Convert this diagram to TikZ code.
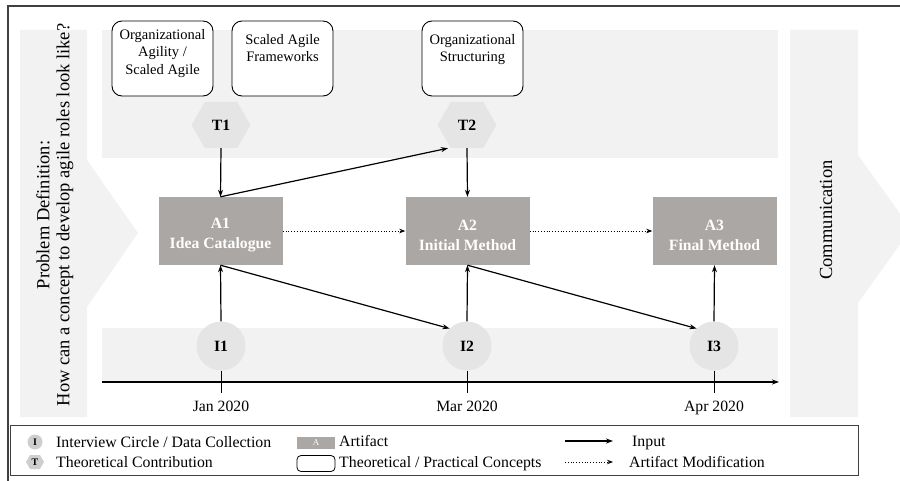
\documentclass[tikz,border=0pt]{standalone}
\usepackage{fontspec}
\setmainfont{Liberation Serif}
\usetikzlibrary{shapes.symbols,arrows.meta,calc}
\definecolor{bandgray}{HTML}{F2F2F2}
\definecolor{nodegray}{HTML}{E6E5E5}
\definecolor{artgray}{RGB}{170,167,164}
\definecolor{framegray}{HTML}{404040}
\begin{document}
\begin{tikzpicture}[x=1pt,y=-1pt,
  every node/.style={font=\fontsize{15.7}{18}\selectfont, inner sep=0pt},
  band/.style={fill=bandgray, draw=none},
  artifact/.style={rectangle, fill=artgray, minimum width=124pt, minimum height=68pt},
  arttext/.style={text=white, align=center, font=\fontsize{15.7}{20}\selectfont\bfseries},
  concept/.style={rectangle, rounded corners=10pt, draw=black, line width=0.9pt,
    fill=white, minimum width=101pt, minimum height=75pt},
  ctext/.style={anchor=north, align=center, font=\fontsize{14.5}{17.5}\selectfont},
  theo/.style={signal, signal to=east and west, signal pointer angle=120,
    fill=nodegray, minimum width=59pt, minimum height=46pt,
    font=\fontsize{15.7}{18}\selectfont\bfseries},
  interview/.style={circle, fill=nodegray, minimum size=49pt,
    font=\fontsize{15.7}{18}\selectfont\bfseries},
  input/.style={-{Stealth[length=7pt,width=5pt]}, line width=1.2pt},
  modif/.style={-{Stealth[length=6pt,width=4.5pt]}, line width=0.8pt, dotted},
  sidetext/.style={rotate=90, font=\fontsize{18.5}{22}\selectfont},
  datetext/.style={anchor=base},
  legtext/.style={anchor=base west, font=\fontsize{15.8}{18}\selectfont}
]
\useasboundingbox (0,0) rectangle (900,481);
\clip (0,0) rectangle (900,481);

% outer frame
\draw[framegray, line width=1.4pt] (8,6) rectangle (915,495);

% side chevrons
\fill[bandgray] (20,30) -- (87,30) -- (87,160) -- (138,233) -- (87,307) -- (87,417) -- (20,417) -- cycle;
\fill[bandgray] (790,30) -- (858,30) -- (858,155) -- (911,229) -- (858,303) -- (858,417) -- (790,417) -- cycle;

% bands
\fill[band] (102,30) rectangle (778,158);
\fill[band] (102,328) rectangle (778,382);

% side texts
\node[sidetext] (pd1) at (43,215) {Problem Definition:};
\node[sidetext] (pd2) at (65,215) {How can a concept to develop agile roles look like?};
\node[sidetext] (comm) at (826,220) {Communication};

% concept boxes
\node[concept] (c1) at (162.5,58.5) {};
\node[concept] (c2) at (282.5,58.5) {};
\node[concept] (c3) at (472.5,58.5) {};
\node[ctext] (c1t) at (162.5,29) {Organizational\\Agility /\\Scaled Agile};
\node[ctext] (c2t) at (282.5,34) {Scaled Agile\\Frameworks};
\node[ctext] (c3t) at (472.5,34) {Organizational\\Structuring};

% theoretical contributions
\node[theo] (T1) at (221,125) {T1};
\node[theo] (T2) at (467,125) {T2};

% artifacts
\node[artifact] (A1) at (220.5,231) {};
\node[artifact] (A2) at (467.5,231) {};
\node[artifact] (A3) at (714.5,231) {};
\node[arttext] (A1t) at ($(A1.center)+(0,4)$) {A1\\Idea Catalogue};
\node[arttext] (A2t) at ($(A2.center)+(0,4)$) {A2\\Initial Method};
\node[arttext] (A3t) at ($(A3.center)+(0,4)$) {A3\\Final Method};

% interviews
\node[interview] (I1) at (221,346) {I1};
\node[interview] (I2) at (467,346) {I2};
\node[interview] (I3) at (714,346) {I3};

% timeline
\coordinate (ax0) at (102,382);
\coordinate (ax1) at (779,382);
\draw[-{Stealth[length=7pt,width=5pt]}, line width=1.3pt] (ax0) -- (ax1);
\foreach \n in {I1,I2,I3}{
  \draw[line width=1pt] (\n.south) -- ++(0,22);
}
\node[datetext] (d1) at (221,411) {Jan 2020};
\node[datetext] (d2) at (467,411) {Mar 2020};
\node[datetext] (d3) at (714,411) {Apr 2020};

% input arrows
\draw[input] (T1.south) -- (A1.north);
\draw[input] (A1.north) -- ($(T2.south)+(-19,0)$);
\draw[input] (T2.south) -- (A2.north);
\draw[input] (I1.north) -- (A1.south);
\draw[input] (A1.south) -- (I2.135);
\draw[input] (I2.north) -- (A2.south);
\draw[input] (A2.south) -- (I3.135);
\draw[input] (I3.north) -- (A3.south);

% modification arrows
\draw[modif] (A1.east) -- (A2.west);
\draw[modif] (A2.east) -- (A3.west);

% legend
\draw[framegray, line width=1pt] (10.5,425) rectangle (858,475);
\node[circle, fill=nodegray!90!black, minimum size=15pt, font=\fontsize{10}{12}\selectfont\bfseries] (lI) at (35,442) {I};
\node[signal, signal to=east and west, signal pointer angle=120, fill=nodegray!90!black,
  minimum width=18pt, minimum height=14pt, font=\fontsize{10}{12}\selectfont\bfseries] (lT) at (35,462) {T};
\node[legtext] (lIt) at (56,447) {Interview Circle / Data Collection};
\node[legtext] (lTt) at (56,467) {Theoretical Contribution};
\node[rectangle, fill=artgray, text=white, minimum width=38pt, minimum height=12pt,
  font=\fontsize{9}{10}\selectfont] (lA) at (316,443) {A};
\node[rectangle, rounded corners=4pt, draw=black, line width=0.8pt, minimum width=38pt,
  minimum height=16pt] (lC) at (316,463.5) {};
\node[legtext] (lAt) at (339,446.5) {Artifact};
\node[legtext] (lCt) at (339,467) {Theoretical / Practical Concepts};
\coordinate (li0) at (565,441);
\coordinate (li1) at (613,441);
\coordinate (lm0) at (565,462);
\coordinate (lm1) at (613,462);
\draw[input] (li0) -- (li1);
\draw[modif] (lm0) -- (lm1);
\node[legtext] (lit) at (632,446) {Input};
\node[legtext] (lmt) at (629,467) {Artifact Modification};
\end{tikzpicture}
\end{document}
